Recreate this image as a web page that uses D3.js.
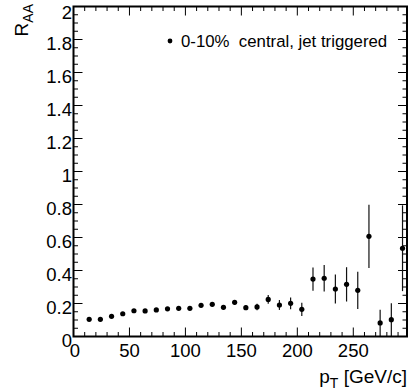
<!DOCTYPE html>
<html>
<head>
    <title>raa</title>
    <script src="https://d3js.org/d3.v7.min.js"></script>
    <style>
        body { margin: 0; background: #fff; }
        text { font-family: "Liberation Sans", Arial, sans-serif; fill: #000; }
        .frame { fill: none; stroke: #000; stroke-width: 2; }
        .tick-line { stroke: #000; stroke-width: 1; }
        .tick-label { font-size: 18.5px; }
        .axis-title { font-size: 19px; }
        .err-bar { stroke: #111; stroke-width: 1.2; }
        .legend-text { font-size: 16.8px; white-space: pre; }
    </style>
</head>
<body>
    <script>

        // pT bin centres [GeV/c]
        var ptValues = [14, 24, 34, 44, 54, 64, 74, 84, 94, 104,
                        114, 124, 134, 144, 154, 164, 174, 184, 194, 204,
                        214, 224, 234, 244, 254, 264, 274, 284, 294];
        // R_AA values
        var raaValues = [0.104, 0.104, 0.122, 0.138, 0.156, 0.155, 0.161, 0.168, 0.171, 0.171,
                         0.189, 0.195, 0.177, 0.207, 0.175, 0.179, 0.225, 0.191, 0.201, 0.165,
                         0.348, 0.353, 0.288, 0.316, 0.280, 0.607, 0.082, 0.102, 0.535];
        // statistical errors
        var raaErrors = [0.005, 0.005, 0.006, 0.006, 0.007, 0.007, 0.008, 0.008, 0.009, 0.010,
                         0.011, 0.012, 0.013, 0.014, 0.015, 0.020, 0.027, 0.030, 0.036, 0.040,
                         0.070, 0.080, 0.088, 0.104, 0.113, 0.192, 0.080, 0.100, 0.260];

        var xTickValues = [0, 50, 100, 150, 200, 250];
        var yTickValues = [0, 0.2, 0.4, 0.6, 0.8, 1, 1.2, 1.4, 1.6, 1.8, 2];
        var legendLabel = "0-10%  central, jet triggered";

        var width = 412,
            height = 392,
            frameLeft = 73.5,
            frameRight = 407,
            frameTop = 6.5,
            frameBottom = 336.5,
            majorLen = 9,
            minorLen = 4.5;

        var x = d3.scaleLinear().domain([0, 298]).range([frameLeft, frameRight]);
        var y = d3.scaleLinear().domain([0, 2]).range([frameBottom, frameTop]);

        var svg = d3.select("body")
            .append("svg")
            .attr("width", width)
            .attr("height", height);

        function isMajorY(d) { return Math.abs(d / 0.2 - Math.round(d / 0.2)) < 1e-6; }

        function drawTicks() {
            var g = svg.append("g");
            var xMinor = d3.range(0, 298, 10);
            var yMinor = d3.range(0, 2.001, 0.05);

            // bottom + top ticks
            g.selectAll(".xt").data(xMinor).enter().append("line")
                .attr("class", "tick-line")
                .attr("x1", function (d) { return x(d); })
                .attr("x2", function (d) { return x(d); })
                .attr("y1", frameBottom)
                .attr("y2", function (d) { return frameBottom - (d % 50 === 0 ? majorLen : minorLen); });
            g.selectAll(".xtt").data(xMinor).enter().append("line")
                .attr("class", "tick-line")
                .attr("x1", function (d) { return x(d); })
                .attr("x2", function (d) { return x(d); })
                .attr("y1", frameTop)
                .attr("y2", function (d) { return frameTop + (d % 50 === 0 ? majorLen : minorLen); });

            // left + right ticks
            g.selectAll(".yt").data(yMinor).enter().append("line")
                .attr("class", "tick-line")
                .attr("y1", function (d) { return y(d); })
                .attr("y2", function (d) { return y(d); })
                .attr("x1", frameLeft)
                .attr("x2", function (d) { return frameLeft + (isMajorY(d) ? majorLen : minorLen); });
            g.selectAll(".ytr").data(yMinor).enter().append("line")
                .attr("class", "tick-line")
                .attr("y1", function (d) { return y(d); })
                .attr("y2", function (d) { return y(d); })
                .attr("x1", frameRight)
                .attr("x2", function (d) { return frameRight - (isMajorY(d) ? majorLen : minorLen); });

            g.selectAll(".x-label").data(xTickValues).enter().append("text")
                .attr("class", "tick-label")
                .attr("text-anchor", "middle")
                .attr("x", function (d) { return x(d) + (d === 0 ? 1.5 : 0); })
                .attr("y", frameBottom + 20)
                .text(function (d) { return d; });

            g.selectAll(".y-label").data(yTickValues).enter().append("text")
                .attr("class", "tick-label")
                .attr("text-anchor", "end")
                .attr("x", frameLeft - 1.5)
                .attr("y", function (d) { return y(d) + (d === 2 ? 12 : 10); })
                .text(function (d) { return d; });
        }

        function drawTitles() {
            var xt = svg.append("text")
                .attr("class", "axis-title")
                .attr("text-anchor", "end")
                .attr("x", frameRight)
                .attr("y", 383);
            xt.append("tspan").text("p");
            xt.append("tspan").attr("dy", 5).style("font-size", "14px").text("T");
            xt.append("tspan").attr("dy", -5).text(" [GeV/c]");

            var yt = svg.append("text")
                .attr("class", "axis-title")
                .attr("text-anchor", "end")
                .attr("transform", "translate(28,4) rotate(-90)");
            yt.append("tspan").text("R");
            yt.append("tspan").attr("dy", 5).style("font-size", "14px").text("AA");
        }

        function drawPoints() {
            var g = svg.append("g");
            g.selectAll(".err-bar").data(ptValues).enter().append("line")
                .attr("class", "err-bar")
                .attr("x1", function (d) { return x(d); })
                .attr("x2", function (d) { return x(d); })
                .attr("y1", function (d, i) { return y(raaValues[i] - raaErrors[i]); })
                .attr("y2", function (d, i) { return y(raaValues[i] + raaErrors[i]); });

            g.selectAll(".pt").data(ptValues).enter().append("circle")
                .attr("cx", function (d) { return x(d); })
                .attr("cy", function (d, i) { return y(raaValues[i]); })
                .attr("r", 2.6)
                .attr("fill", "#000");
        }

        function drawLegend() {
            svg.append("circle").attr("cx", 170).attr("cy", 41).attr("r", 2.4).attr("fill", "#000");
            svg.append("text")
                .attr("class", "legend-text")
                .attr("x", 181)
                .attr("y", 47)
                .text(legendLabel);
        }

        drawTicks();
        drawPoints();
        drawLegend();
        drawTitles();

        svg.append("rect").attr("class", "frame")
            .attr("x", frameLeft).attr("y", frameTop)
            .attr("width", frameRight - frameLeft).attr("height", frameBottom - frameTop);

    </script>
</body>
</html>
